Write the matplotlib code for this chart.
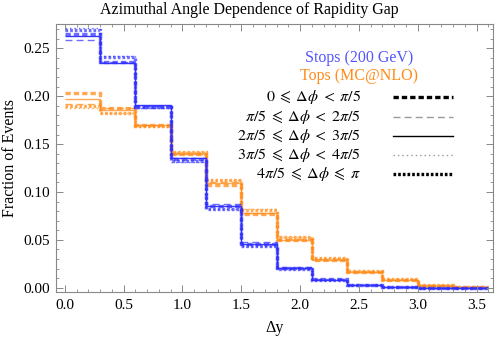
import matplotlib
matplotlib.use("Agg")
import matplotlib.pyplot as plt
from matplotlib.lines import Line2D
import numpy as np

plt.rcParams['font.family'] = ['Liberation Serif', 'DejaVu Serif']
plt.rcParams['mathtext.fontset'] = 'stix'

edges = [0.0, 0.3, 0.6, 0.9, 1.2, 1.5, 1.8, 2.1, 2.4, 2.7, 3.0, 3.3, 3.6]

stops_1 = [0.265, 0.236, 0.189, 0.134, 0.085, 0.046, 0.021, 0.009, 0.003, 0.0008, 0.0002, 0.0001]
stops_2 = [0.259, 0.236, 0.190, 0.135, 0.087, 0.048, 0.022, 0.009, 0.003, 0.0010, 0.0002, 0.0000]
stops_3 = [0.263, 0.235, 0.191, 0.136, 0.085, 0.046, 0.021, 0.008, 0.003, 0.0010, 0.0002, 0.0000]
stops_4 = [0.271, 0.242, 0.188, 0.131, 0.082, 0.044, 0.020, 0.008, 0.003, 0.0008, 0.0002, 0.0000]
stops_5 = [0.269, 0.241, 0.189, 0.132, 0.082, 0.044, 0.020, 0.008, 0.003, 0.0008, 0.0002, 0.0000]

tops_1 = [0.203, 0.188, 0.170, 0.140, 0.107, 0.077, 0.050, 0.029, 0.016, 0.008, 0.002, 0.001]
tops_2 = [0.192, 0.188, 0.170, 0.141, 0.110, 0.078, 0.051, 0.030, 0.016, 0.008, 0.003, 0.001]
tops_3 = [0.197, 0.186, 0.170, 0.140, 0.109, 0.078, 0.050, 0.029, 0.016, 0.008, 0.002, 0.001]
tops_4 = [0.188, 0.182, 0.168, 0.142, 0.113, 0.082, 0.053, 0.031, 0.017, 0.009, 0.003, 0.001]
tops_5 = [0.190, 0.183, 0.169, 0.142, 0.113, 0.081, 0.053, 0.031, 0.017, 0.009, 0.003, 0.001]

labels = [r"$0\;\leqslant\;\Delta\phi\;<\;\pi/5$",
          r"$\pi/5\;\leqslant\;\Delta\phi\;<\;2\pi/5$",
          r"$2\pi/5\;\leqslant\;\Delta\phi\;<\;3\pi/5$",
          r"$3\pi/5\;\leqslant\;\Delta\phi\;<\;4\pi/5$",
          r"$4\pi/5\;\leqslant\;\Delta\phi\;\leqslant\;\pi$"]

styles = [dict(lw=2.4, ls=(0, (1.6, 0.9))),
          dict(lw=1.0, ls=(0, (5, 3))),
          dict(lw=1.0, ls='-'),
          dict(lw=1.0, ls=(0, (1, 2.2))),
          dict(lw=2.4, ls=(0, (0.8, 0.6)))]
legend_colors = ['black', '#999999', 'black', '#999999', 'black']

blue = '#2e2eff'
orange = '#ff8c1a'

fig = plt.figure(figsize=(4.98, 3.40), dpi=100)
L, R, T, B = 56, 493, 24, 292
ax = fig.add_axes([L / 498, (340 - B) / 340, (R - L) / 498, (B - T) / 340])

stops = [stops_1, stops_2, stops_3, stops_4, stops_5]
tops = [tops_1, tops_2, tops_3, tops_4, tops_5]
for vals, st in zip(tops, styles):
    ax.stairs(vals, edges, color=orange, alpha=0.75, linewidth=st['lw'], linestyle=st['ls'], baseline=None)
for i, (vals, st) in enumerate(zip(stops, styles)):
    a = 0.95 if i == 2 else 0.7
    ax.stairs(vals, edges, color=blue, alpha=a, linewidth=st['lw'], linestyle=st['ls'], baseline=None)

ax.set_xlim(-0.075, 3.64)
ax.set_ylim(-0.0045, 0.2755)
ax.set_xticks(np.arange(0, 3.51, 0.5))
ax.set_xticks(np.arange(0, 3.61, 0.1), minor=True)
ax.set_yticks(np.arange(0, 0.251, 0.05))
ax.set_yticks(np.arange(0, 0.271, 0.01), minor=True)
ax.xaxis.set_major_formatter(matplotlib.ticker.FormatStrFormatter('%.1f'))
ax.yaxis.set_major_formatter(matplotlib.ticker.FormatStrFormatter('%.2f'))
ax.tick_params(which='both', direction='in', top=True, right=True, color='#888888', labelsize=11)
ax.tick_params(which='major', length=5, width=0.7)
ax.tick_params(which='minor', length=2.5, width=0.6)
ax.tick_params(axis='x', which='major', pad=5)
ax.tick_params(axis='y', which='major', pad=4)
for s in ax.spines.values():
    s.set_color('#888888')
    s.set_linewidth(0.8)

ax.set_xlabel("Δy", fontsize=11.5, labelpad=6)
ax.set_ylabel("Fraction of Events", fontsize=11.5, labelpad=4)
fig.text(0.5, 1 - 10 / 340, "Azimuthal Angle Dependence of Rapidity Gap", ha='center', va='center', fontsize=11.5)

# legend
fig.text(359 / 498, 1 - 58 / 340, "Stops (200 GeV)", color='#5555ff', ha='center', va='center', fontsize=11.5)
fig.text(359 / 498, 1 - 76.5 / 340, "Tops (MC@NLO)", color=orange, ha='center', va='center', fontsize=11.5)
rows = [96.7, 116.7, 136, 155, 174.3]
for lab, st, c, y in zip(labels, styles, legend_colors, rows):
    fig.text(361 / 498, 1 - y / 340, lab, ha='right', va='center', fontsize=11.5)
    fig.add_artist(Line2D([393 / 498, 453 / 498], [1 - y / 340, 1 - y / 340], transform=fig.transFigure,
                          color=c, linewidth=st['lw'], linestyle=st['ls']))

fig.savefig("out.png", dpi=100)
